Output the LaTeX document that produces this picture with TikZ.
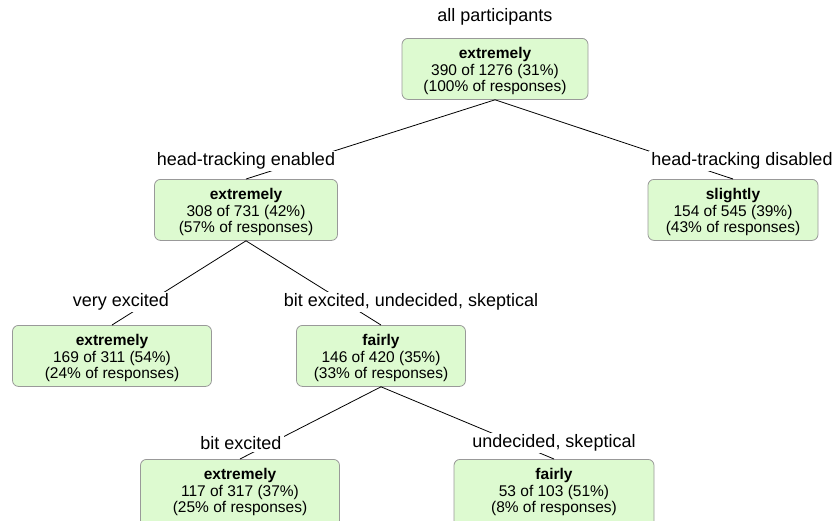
\documentclass[tikz,border=0pt]{standalone}
\usepackage{fontspec}
\setmainfont{Liberation Sans}
\newcommand{\topstrut}{\rule{0pt}{15.5pt}}
\newcommand{\botstrut}{\rule[-12.3pt]{0pt}{12.3pt}}
\begin{document}
\begin{tikzpicture}[x=1pt,y=-1pt,
  box/.style={draw=black!40, fill=boxgreen, rounded corners=6pt, line width=0.8pt,
    minimum height=61pt, align=center, font=\fontsize{15.5}{16.8}\selectfont, inner sep=0pt},
  lbl/.style={fill=white, font=\fontsize{18}{20}\selectfont, inner sep=2pt},
  edge/.style={draw=black, line width=0.8pt}]
\definecolor{boxgreen}{HTML}{DDFAD0}
\useasboundingbox (0,0) rectangle (840,520);
\clip (0,0) rectangle (840,520);
% boxes
\node[box, minimum width=186pt, anchor=north] (root) at (495,38) {\topstrut\textbf{extremely}\\390 of 1276 (31\%)\\(100\% of responses)};
\node[box, minimum width=183pt, anchor=north] (en) at (246,179) {\topstrut\textbf{extremely}\\308 of 731 (42\%)\\(57\% of responses)};
\node[box, minimum width=170pt, anchor=north] (dis) at (733,179) {\topstrut\textbf{slightly}\\154 of 545 (39\%)\\(43\% of responses)};
\node[box, minimum width=199pt, anchor=north] (ve) at (112,325) {\topstrut\textbf{extremely}\\169 of 311 (54\%)\\(24\% of responses)};
\node[box, minimum width=169pt, anchor=north] (bu) at (381,325) {\topstrut\textbf{fairly}\\146 of 420 (35\%)\\(33\% of responses)};
\node[box, minimum width=199pt, minimum height=70pt, anchor=north] (be) at (240,459) {\topstrut\textbf{extremely}\\117 of 317 (37\%)\\(25\% of responses)\botstrut};
\node[box, minimum width=200pt, minimum height=70pt, anchor=north] (us) at (554,459) {\topstrut\textbf{fairly}\\53 of 103 (51\%)\\(8\% of responses)\botstrut};
% edges
\draw[edge] (root.south) -- (en.north);
\draw[edge] (root.south) -- (dis.north);
\draw[edge] (en.south) -- (ve.north);
\draw[edge] (en.south) -- (bu.north);
\draw[edge] (bu.south) -- (be.north);
\draw[edge] (bu.south) -- (us.north);
% labels
\node[lbl] (l0) at (495,17) {all participants};
\node[lbl] (l1) at (246,161) {head-tracking enabled};
\node[lbl] (l2) at (742,161) {head-tracking disabled};
\node[lbl] (l3) at (121,302) {very excited};
\node[lbl] (l4) at (411,302) {bit excited, undecided, skeptical};
\node[lbl] (l5) at (241,443) {bit excited};
\node[lbl] (l6) at (554,443) {undecided, skeptical};
\end{tikzpicture}
\end{document}
